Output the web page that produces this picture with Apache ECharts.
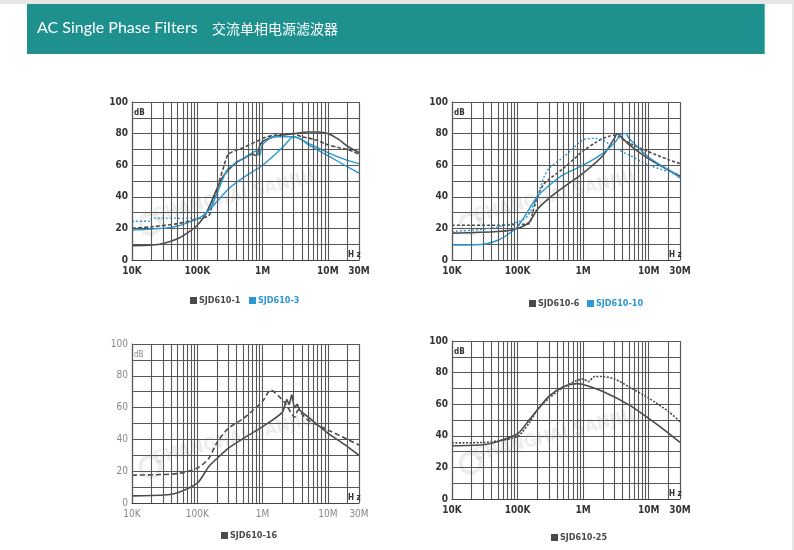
<!DOCTYPE html>
<html><head><meta charset="utf-8">
<script src="https://cdn.jsdelivr.net/npm/echarts@6/dist/echarts.min.js"></script>
<style>html,body{margin:0;padding:0;background:#fff}#c{width:794px;height:550px}</style>
</head><body><div id="c"></div>
<script>
// ---- tick labels ----
const xTickValues = [1e4, 1e5, 1e6, 1e7, 3e7];
const xTickLabels = ['10K', '100K', '1M', '10M', '30M'];
const yLabelStep = 20;
const gridMultipliers = [1, 2, 3, 4, 5, 6, 7, 8, 9];
const gridDecades = [1e4, 1e5, 1e6, 1e7];
const xMax = 3e7;

// ---- chart 1 : SJD610-1 / SJD610-3 ----
const c1GraySolid = [[1e4,9],[2e4,9.5],[3e4,10.5],[5e4,13.5],[7e4,17],[1e5,22],[1.3e5,28],[1.5e5,33],[2e5,45],[2.5e5,53],[3e5,57],[4e5,62],[5e5,64],[7e5,67],[8e5,66],[9e5,72],[1e6,75],[1.5e6,78],[2e6,79],[3e6,80],[5e6,81],[7e6,81],[1e7,80],[1.5e7,76],[2e7,72],[3e7,68]];
const c1GrayDashed = [[1e4,20],[2e4,21],[5e4,23],[1e5,26],[1.5e5,28],[1.7e5,35],[2e5,45],[2.5e5,58],[3e5,67],[5e5,71],[8e5,75],[1e6,77],[1.5e6,79],[3e6,80],[4e6,78],[6e6,76.5],[1e7,73],[1.5e7,71],[2e7,70],[3e7,67]];
const c1BlueLow = [[1e4,19],[3e4,20],[5e4,21.5],[7e4,23.5],[1e5,26],[1.3e5,29],[2e5,37],[3e5,45],[5e5,52],[1e6,60],[2e6,71],[2.7e6,77],[3e6,78],[4e6,76],[5e6,73],[1e7,66],[2e7,59],[3e7,55]];
const c1BlueHighDot = [[1e4,24.5],[1.9e4,24.5],[2e4,26.5],[1e5,26.5],[1.2e5,27.5]];
const c1BlueHigh = [[1.2e5,27.5],[1.6e5,33],[2e5,42],[2.5e5,52],[3e5,58],[5e5,64],[7e5,68],[8e5,69],[9e5,66],[1e6,73],[1.5e6,78],[2e6,78],[3e6,78],[5e6,74],[1e7,68],[2e7,63],[3e7,61]];

// ---- chart 2 : SJD610-6 / SJD610-10 ----
const c2GrayDash = [[1e4,22],[5e4,22],[1e5,22.5],[1.5e5,23],[1.7e5,30],[2e5,40],[2.5e5,48],[3e5,51],[5e5,58],[1e6,69],[1.5e6,74],[2e6,77],[3e6,79],[3.5e6,78],[5e6,74],[1e7,68.5],[2e7,63.5],[3e7,61]];
const c2GraySolid = [[1e4,17],[5e4,18],[1e5,20],[1.5e5,24],[2e5,32],[3e5,39],[5e5,46],[1e6,55],[2e6,66],[3e6,77],[3.3e6,80],[4e6,77],[5e6,73],[1e7,64],[2e7,57],[3e7,53]];
const c2BlueDot = [[1e4,18],[3e4,19.5],[5e4,21],[1e5,24],[1.4e5,27.5],[2e5,40],[2.5e5,52],[3e5,58],[5e5,65],[1e6,76],[1.5e6,77],[2e6,76],[3e6,71],[5e6,66.5],[1e7,60],[2e7,56],[3e7,54]];
const c2BlueSolid = [[1e4,9.5],[3e4,10],[5e4,12.5],[7e4,16],[1e5,21],[1.3e5,28],[2e5,40],[3e5,47],[5e5,54],[1e6,60],[2e6,67.5],[3e6,74],[4e6,80],[4.5e6,80],[5e6,77],[1e7,65],[2e7,57],[3e7,52]];

// ---- chart 3 : SJD610-16 ----
const c3Dash = [[1e4,17.5],[5e4,18.5],[1e5,22],[1.5e5,28],[2e5,38],[3e5,47],[5e5,53],[1e6,64],[1.33e6,71],[2.2e6,63],[3.1e6,54],[3.5e6,58.5],[4.2e6,55],[5e6,52],[1e7,46],[2e7,40],[3e7,36.5]];
const c3Solid = [[1e4,4.5],[3e4,5],[5e4,6.5],[1e5,12.5],[1.3e5,19],[1.5e5,23],[2e5,28],[3e5,34.5],[5e5,40.5],[1e6,48],[2e6,57],[2.36e6,65],[2.55e6,62],[2.8e6,68],[3.1e6,60],[3.4e6,62],[3.7e6,58.5],[5e6,54],[1e7,44],[2e7,35.5],[3e7,30]];

// ---- chart 4 : SJD610-25 ----
const c4Dot = [[1e4,35.5],[3e4,35.8],[5e4,36.8],[1e5,39.6],[1.5e5,48],[2e5,56.4],[3e5,63.8],[5e5,70.7],[8e5,75],[1e6,76],[1.2e6,74.3],[1.5e6,77.5],[2e6,77.5],[3e6,76],[5e6,71],[1e7,63.8],[2e7,55.4],[3e7,49]];
const c4Solid = [[1e4,33.7],[3e4,34.3],[5e4,36.4],[1e5,41.3],[1.5e5,50],[2e5,56.4],[3e5,65],[5e5,71],[8e5,73],[1e6,72.5],[2e6,68],[5e6,59.6],[1e7,51],[2e7,41.7],[3e7,35.8]];

const GRAY = '#4a4a4a', BLUE = '#2b98d4', GRID = '#575757';
const FONT = "'Liberation Sans Narrow','DejaVu Sans Condensed',Lato,sans-serif";

const chartDefs = [
  { grid:{left:132,top:102,width:227,height:158}, bold:true,
    legend:[['SJD610-1',GRAY,190,296],['SJD610-3',BLUE,249,296]],
    lines:[['SJD610-1',c1GraySolid,GRAY,null],['SJD610-1',c1GrayDashed,GRAY,[4,2]],
           ['SJD610-3',c1BlueLow,BLUE,null],['SJD610-3',c1BlueHighDot,BLUE,[2,2]],['SJD610-3',c1BlueHigh,BLUE,null]] },
  { grid:{left:452,top:102,width:228,height:158}, bold:true,
    legend:[['SJD610-6',GRAY,529,299],['SJD610-10',BLUE,587,299]],
    lines:[['SJD610-6',c2GraySolid,GRAY,null],['SJD610-6',c2GrayDash,GRAY,[3,2]],
           ['SJD610-10',c2BlueSolid,BLUE,null],['SJD610-10',c2BlueDot,BLUE,[2,2]]] },
  { grid:{left:132,top:344,width:227,height:159}, bold:false,
    legend:[['SJD610-16',GRAY,221,531]],
    lines:[['SJD610-16',c3Solid,GRAY,null],['SJD610-16',c3Dash,GRAY,[5,3]]] },
  { grid:{left:452,top:341,width:228,height:158}, bold:true,
    legend:[['SJD610-25',GRAY,551,533]],
    lines:[['SJD610-25',c4Solid,GRAY,null],['SJD610-25',c4Dot,GRAY,[2,1.5]]] }
];

const gridFreqs = [];
gridDecades.forEach(d => gridMultipliers.forEach(m => { if (m*d <= xMax) gridFreqs.push(m*d); }));
gridFreqs.push(xMax);

function xLabel(v){
  let best = 0, bd = Infinity;
  xTickValues.forEach((t,i)=>{ const d = Math.abs(Math.log10(v)-Math.log10(t)); if (d<bd){bd=d;best=i;} });
  return bd < 0.01 ? xTickLabels[best] : '';
}

const option = { animation:false, backgroundColor:'#fff', grid:[], xAxis:[], yAxis:[], series:[], legend:[], graphic:[] };

// header
option.graphic.push({type:'rect', shape:{x:0,y:0,width:794,height:4}, style:{fill:'#e6e6e6'}});
option.graphic.push({type:'rect', shape:{x:792,y:0,width:2,height:550}, style:{fill:'#e6e6e6'}});
option.graphic.push({type:'rect', shape:{x:27,y:4,width:738,height:50}, style:{fill:'#1e918f'}});
option.graphic.push({type:'rect', shape:{x:764,y:4,width:1,height:50}, style:{fill:'#4fc0bb'}});
option.graphic.push({type:'text', x:37, y:28, style:{text:'AC Single Phase Filters', fill:'#fff', font:"16px Lato, 'Open Sans', sans-serif", textVerticalAlign:'middle'}});
option.graphic.push({type:'text', x:212, y:29, style:{text:'交流单相电源滤波器', fill:'#fff', font:"14px 'Noto Sans CJK SC'", textVerticalAlign:'middle', textLetterSpacing:2.5}});

chartDefs.forEach((c, i) => {
  const g = c.grid;
  option.grid.push(Object.assign({containLabel:false}, g));
  const lblColor = c.bold ? '#333' : '#888';
  const lblWeight = c.bold ? 'bold' : 'normal';
  option.xAxis.push({ type:'log', logBase:10, min:1e4, max:xMax, gridIndex:i,
    axisLine:{show:true, lineStyle:{color:'#444', width:1.2}}, axisTick:{show:false}, splitLine:{show:false}, minorSplitLine:{show:false},
    axisLabel:{formatter:xLabel, color:lblColor, fontWeight:lblWeight, fontSize:10, margin:6, fontFamily:FONT, showMaxLabel:true, showMinLabel:true} });
  option.yAxis.push({ type:'value', min:0, max:100, interval:10, gridIndex:i,
    axisLine:{show:true, lineStyle:{color:'#444', width:1.2}}, axisTick:{show:false},
    splitLine:{show:true, lineStyle:{color:GRID, width:1.1}},
    axisLabel:{formatter:v => (v % yLabelStep === 0 ? String(v) : ''), color:lblColor, fontWeight:lblWeight, fontSize:10, margin:4, fontFamily:FONT} });
  // vertical grid lines
  option.series.push({ type:'line', xAxisIndex:i, yAxisIndex:i, data:[[1e4,0]], z:1, silent:true, showSymbol:false, symbol:'none', lineStyle:{opacity:0},
    markLine:{ silent:true, symbol:['none','none'], label:{show:false}, animation:false,
      lineStyle:{color:GRID, width:1.1, type:'solid'}, emphasis:{disabled:true},
      data: gridFreqs.map(f => ({xAxis:f})) } });
  c.lines.forEach(([name, data, color, dash]) => {
    option.series.push({ type:'line', name, xAxisIndex:i, yAxisIndex:i, data, z:3, smooth:0.25, symbol:'none', showSymbol:false,
      lineStyle:{color, width: color===BLUE ? 1.4 : 1.6, type: dash || 'solid'}, itemStyle:{color} });
  });
  c.legend.forEach(([n, col, lx, ly]) => {
    option.legend.push({ left:lx, top:ly, padding:0, icon:'rect', itemWidth:7, itemHeight:7,
      itemStyle:{borderWidth:0}, selectedMode:false,
      data:[{name:n, textStyle:{color:col, fontWeight:'bold', fontSize:9, fontFamily:FONT, padding:[0,0,0,-3]}}] });
  });
  // dB / Hz labels
  option.graphic.push({type:'text', x:g.left+2, y:g.top+11, z:10, style:{text:'dB', fill:c.bold?'#333':'#888', font:(c.bold?'bold ':'')+'8px '+FONT, textVerticalAlign:'middle'}});
  option.graphic.push({type:'text', x:g.left+g.width-11, y:g.top+g.height-5, z:10, style:{text:'H z', fill:'#333', font:'bold 8px '+FONT, textVerticalAlign:'middle'}});
  // watermark
  option.graphic.push({type:'group', x:g.left+g.width*0.45, y:g.top+g.height*0.6, rotation:Math.PI*14/180, z:2, silent:true, children:[
    {type:'circle', shape:{cx:-88, cy:6, r:10}, style:{fill:'none', stroke:'rgba(0,0,0,0.07)', lineWidth:4}},
    {type:'text', x:0, y:0, style:{text:'SHANGHAI SANJIU', fill:'rgba(0,0,0,0.07)', font:'bold 18px '+FONT, textAlign:'center', textVerticalAlign:'middle'}}
  ]});
});

const chart = echarts.init(document.getElementById('c'), null, {renderer:'canvas'});
chart.setOption(option);
</script></body></html>
